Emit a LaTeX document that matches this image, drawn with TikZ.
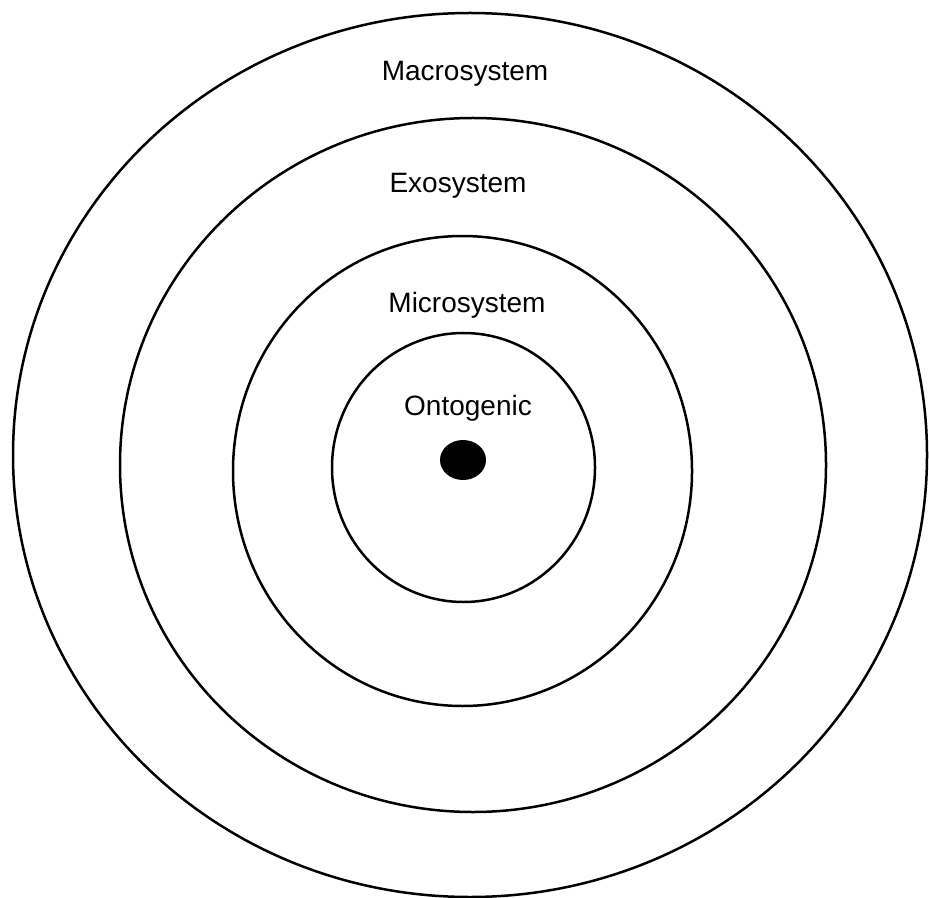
\documentclass[tikz,border=0pt]{standalone}
\usepackage{fontspec}
\setmainfont{Liberation Sans}
\tikzset{
  ring/.style={line width=1.25pt},
  level/.style={anchor=base,inner sep=0pt,font=\fontsize{14}{17}\selectfont}
}
\begin{document}
\begin{tikzpicture}[x=0.5pt,y=-0.5pt]
  \useasboundingbox (0,0) rectangle (929,897);
  % nested systems, outermost first
  \foreach \cx/\cy/\rx/\ry in {470/455/457/442, 473/465/353/347,
                               462.5/471/229.5/235, 463.5/467.5/131.5/134.5}
    {\draw[ring] (\cx,\cy) ellipse [x radius=\rx, y radius=\ry];}
  \fill (463,460) ellipse [x radius=23, y radius=20];
  \node[level] (macro) at (465,81)  {Macrosystem};
  \node[level] (exo)   at (458,193) {Exosystem};
  \node[level] (micro) at (467,313) {Microsystem};
  \node[level] (onto)  at (468,415) {Ontogenic};
\end{tikzpicture}
\end{document}
